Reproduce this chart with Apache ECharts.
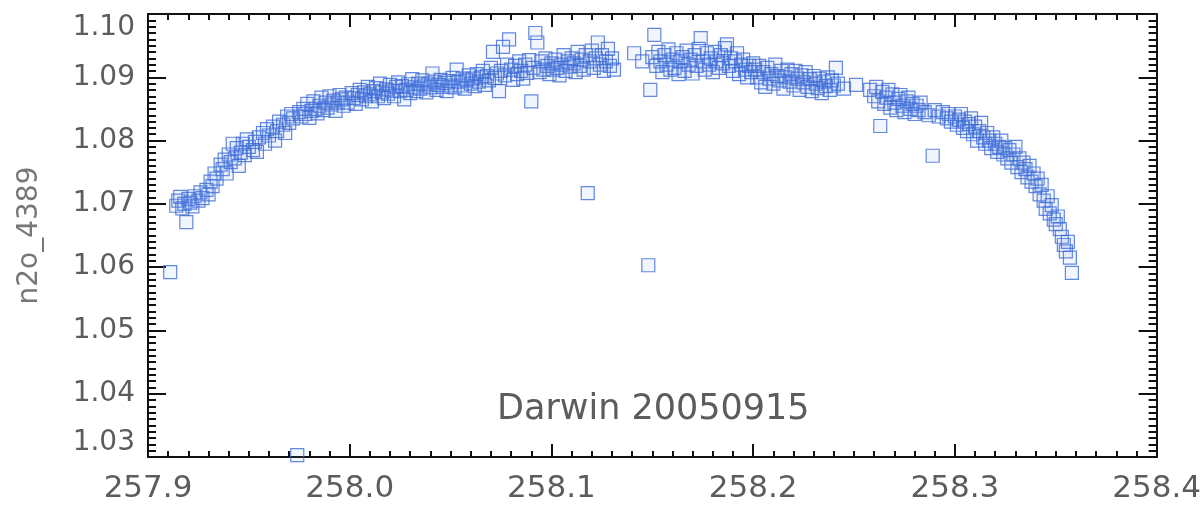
<!DOCTYPE html>
<html>
<head>
<meta charset="utf-8">
<title>Darwin 20050915</title>
<script src="https://cdn.jsdelivr.net/npm/echarts@6/dist/echarts.min.js"></script>
<style>
    html, body { margin: 0; padding: 0; background: #fff; }
    #chart { width: 1204px; height: 507px; }
</style>
</head>
<body>
<div id="chart"></div>
<script>
// tick labels
const xTicks = [257.9, 258.0, 258.1, 258.2, 258.3, 258.4]
const yTicks = [1.03, 1.04, 1.05, 1.06, 1.07, 1.08, 1.09, 1.10]

// rising arm, 257.91 - 258.00
const leftArm = [
    [257.914,1.0697],[257.915,1.0705],[257.916,1.0711],[257.917,1.0693],[257.918,1.0700],[257.919,1.0671],
    [257.920,1.0708],[257.921,1.0702],[257.922,1.0696],[257.923,1.0712],[257.925,1.0705],[257.926,1.0718],
    [257.927,1.0709],[257.929,1.0722],[257.930,1.0715],[257.931,1.0735],[257.932,1.0728],[257.933,1.0748],
    [257.934,1.0740],[257.936,1.0762],[257.937,1.0755],[257.938,1.0770],[257.939,1.0748],[257.940,1.0778],
    [257.941,1.0766],[257.942,1.0795],[257.943,1.0772],[257.944,1.0788],[257.945,1.0760],[257.946,1.0781],
    [257.947,1.0795],[257.948,1.0777],[257.949,1.0802],[257.950,1.0790],[257.952,1.0785],[257.953,1.0798],
    [257.954,1.0782],[257.955,1.0805],[257.957,1.0812],[257.958,1.0795],[257.959,1.0818],[257.960,1.0808],
    [257.962,1.0822],[257.963,1.0800],[257.964,1.0815],[257.965,1.0830],[257.967,1.0825],[257.968,1.0812],
    [257.969,1.0838],[257.970,1.0828],[257.971,1.0842],[257.972,1.0835],[257.975,1.0845],[257.976,1.0838],
    [257.977,1.0850],[257.978,1.0842],[257.979,1.0858],[257.980,1.0836],[257.981,1.0847],[257.982,1.0862],
    [257.983,1.0850],[257.984,1.0843],[257.985,1.0855],[257.986,1.0868],[257.987,1.0848],[257.988,1.0860],
    [257.989,1.0852],[257.990,1.0870],[257.991,1.0857],[257.992,1.0863],[257.993,1.0847],[257.994,1.0860],
    [257.995,1.0872],[257.996,1.0865],[257.997,1.0855],[257.998,1.0868],[257.999,1.0860]
]

// flat top, 258.00 - 258.245
const plateau = [
    [258.001,1.0875],[258.002,1.0867],[258.003,1.0858],[258.004,1.0872],[258.005,1.0880],[258.006,1.0865],
    [258.007,1.0876],[258.008,1.0870],[258.009,1.0885],[258.010,1.0873],[258.011,1.0862],[258.012,1.0878],
    [258.013,1.0883],[258.014,1.0870],[258.015,1.0890],[258.016,1.0876],[258.017,1.0867],[258.018,1.0881],
    [258.019,1.0874],[258.020,1.0888],[258.021,1.0879],[258.022,1.0870],[258.023,1.0885],[258.024,1.0892],
    [258.025,1.0878],[258.026,1.0886],[258.027,1.0865],[258.028,1.0880],[258.029,1.0889],[258.030,1.0875],
    [258.031,1.0897],[258.032,1.0884],[258.033,1.0878],[258.034,1.0890],[258.035,1.0882],[258.036,1.0895],
    [258.037,1.0887],[258.038,1.0876],[258.039,1.0890],[258.040,1.0884],[258.041,1.0906],[258.042,1.0893],
    [258.043,1.0880],[258.044,1.0888],[258.045,1.0896],[258.046,1.0885],[258.047,1.0891],[258.048,1.0878],
    [258.049,1.0894],[258.050,1.0887],[258.051,1.0899],[258.052,1.0884],[258.053,1.0912],[258.054,1.0893],
    [258.055,1.0887],[258.056,1.0898],[258.057,1.0882],[258.058,1.0895],[258.059,1.0903],[258.060,1.0890],
    [258.061,1.0898],[258.062,1.0886],[258.063,1.0905],[258.064,1.0893],[258.065,1.0900],[258.066,1.0910],
    [258.067,1.0888],[258.068,1.0902],[258.069,1.0895],[258.070,1.0915],[258.071,1.0940],[258.072,1.0899],
    [258.073,1.0906],[258.074,1.0878],[258.075,1.0910],[258.076,1.0948],[258.077,1.0903],[258.078,1.0920],
    [258.079,1.0960],[258.080,1.0912],[258.081,1.0896],[258.082,1.0918],[258.083,1.0905],[258.084,1.0925],
    [258.085,1.0910],[258.086,1.0898],[258.087,1.0920],[258.088,1.0907],[258.089,1.0927],[258.090,1.0862],
    [258.091,1.0915],[258.092,1.0970],[258.093,1.0955],[258.094,1.0908],[258.095,1.0925],[258.096,1.0912],
    [258.097,1.0930],[258.098,1.0918],[258.099,1.0905],[258.100,1.0922],[258.101,1.0912],[258.102,1.0928],
    [258.103,1.0915],[258.104,1.0903],[258.105,1.0920],[258.106,1.0935],[258.107,1.0910],[258.108,1.0925],
    [258.109,1.0917],[258.110,1.0930],[258.111,1.0922],[258.112,1.0908],[258.113,1.0940],[258.114,1.0918],
    [258.115,1.0928],[258.116,1.0912],[258.117,1.0935],[258.119,1.0925],[258.120,1.0942],[258.121,1.0915],
    [258.122,1.0930],[258.123,1.0955],[258.124,1.0920],[258.125,1.0935],[258.126,1.0910],[258.127,1.0925],
    [258.128,1.0945],[258.129,1.0918],[258.130,1.0930],[258.131,1.0912],
    [258.141,1.0938],[258.145,1.0925],[258.149,1.0880],[258.150,1.0932],[258.151,1.0967],[258.152,1.0918],
    [258.153,1.0940],[258.154,1.0925],[258.155,1.0908],[258.156,1.0935],[258.157,1.0920],[258.158,1.0944],
    [258.159,1.0912],[258.160,1.0928],[258.161,1.0915],[258.162,1.0938],[258.163,1.0905],[258.164,1.0925],
    [258.165,1.0932],[258.166,1.0910],[258.167,1.0942],[258.168,1.0920],[258.169,1.0928],[258.170,1.0906],
    [258.171,1.0935],[258.172,1.0918],[258.173,1.0945],[258.174,1.0962],[258.175,1.0925],[258.176,1.0912],
    [258.177,1.0938],[258.178,1.0920],[258.179,1.0930],[258.180,1.0908],[258.181,1.0940],[258.182,1.0925],
    [258.183,1.0915],[258.184,1.0935],[258.185,1.0922],[258.186,1.0946],[258.187,1.0952],[258.188,1.0918],
    [258.189,1.0930],[258.190,1.0910],[258.191,1.0925],[258.192,1.0938],[258.193,1.0905],[258.194,1.0920],
    [258.195,1.0928],[258.196,1.0912],[258.197,1.0900],[258.198,1.0918],[258.199,1.0908],[258.200,1.0922],
    [258.201,1.0912],[258.202,1.0900],[258.203,1.0918],[258.204,1.0892],[258.205,1.0908],[258.206,1.0885],
    [258.207,1.0915],[258.208,1.0898],[258.209,1.0905],[258.210,1.0890],[258.211,1.0920],[258.212,1.0902],
    [258.213,1.0895],[258.214,1.0910],[258.215,1.0882],[258.216,1.0900],[258.217,1.0912],[258.218,1.0893],
    [258.219,1.0905],[258.220,1.0887],[258.221,1.0910],[258.222,1.0898],[258.223,1.0880],[258.224,1.0903],
    [258.225,1.0892],[258.226,1.0908],[258.227,1.0885],[258.228,1.0897],[258.229,1.0878],[258.230,1.0902],
    [258.231,1.0890],[258.232,1.0883],[258.233,1.0898],[258.234,1.0875],[258.235,1.0893],[258.236,1.0886],
    [258.237,1.0900],[258.238,1.0880],[258.239,1.0895],[258.240,1.0887],[258.241,1.0915],[258.242,1.0890]
]

// falling arm, 258.245 - 258.36
const rightArm = [
    [258.245,1.0882],[258.251,1.0888],[258.258,1.0880],[258.260,1.0870],[258.261,1.0885],[258.262,1.0862],
    [258.264,1.0877],[258.265,1.0858],[258.266,1.0868],[258.267,1.0880],[258.268,1.0852],[258.269,1.0873],
    [258.270,1.0860],[258.271,1.0848],[258.272,1.0866],[258.273,1.0872],[258.274,1.0855],[258.275,1.0845],
    [258.276,1.0862],[258.277,1.0868],[258.278,1.0850],[258.279,1.0858],[258.280,1.0842],[258.281,1.0855],
    [258.282,1.0848],[258.283,1.0860],[258.285,1.0845],[258.287,1.0840],[258.290,1.0848],[258.292,1.0838],
    [258.294,1.0845],[258.296,1.0835],[258.297,1.0842],[258.298,1.0830],[258.300,1.0838],[258.301,1.0825],
    [258.302,1.0833],[258.303,1.0842],[258.304,1.0820],[258.305,1.0830],[258.306,1.0815],[258.307,1.0826],
    [258.308,1.0835],[258.309,1.0810],[258.310,1.0822],[258.311,1.0800],[258.312,1.0815],[258.313,1.0828],
    [258.314,1.0805],[258.315,1.0795],[258.316,1.0812],[258.317,1.0800],[258.318,1.0788],[258.319,1.0805],
    [258.320,1.0795],[258.321,1.0782],[258.322,1.0790],[258.323,1.0800],[258.324,1.0778],[258.325,1.0788],
    [258.326,1.0772],[258.327,1.0785],[258.328,1.0765],[258.329,1.0778],[258.330,1.0790],[258.331,1.0758],
    [258.332,1.0772],[258.333,1.0750],[258.334,1.0765],[258.335,1.0755],[258.336,1.0742],[258.337,1.0760],
    [258.338,1.0735],[258.339,1.0748],[258.340,1.0728],[258.341,1.0740],[258.342,1.0715],[258.343,1.0730],
    [258.344,1.0705],[258.345,1.0692],[258.346,1.0712],[258.347,1.0685],[258.348,1.0698],[258.349,1.0675],
    [258.350,1.0668],[258.351,1.0680],[258.352,1.0660],[258.353,1.0648],[258.354,1.0635],[258.355,1.0625],
    [258.356,1.0640],[258.357,1.0615],[258.358,1.0591]
]

// stray points away from the arc
const outliers = [
    [257.911,1.0592],[257.974,1.0303],[258.118,1.0717],[258.148,1.0603],[258.263,1.0823],[258.289,1.0776]
]

const chartLabel = 'Darwin 20050915'
const yName = 'n2o_4389'

let chartDom = document.getElementById('chart')
let chart = echarts.init(chartDom)

let textGrey = '#5c5c5c'
let frame = { show: true, onZero: false, lineStyle: { color: '#111', width: 2 } }

function xAxisOpt(pos, showLabel) {
    return {
        type: 'value',
        position: pos,
        min: xTicks[0],
        max: xTicks[xTicks.length - 1],
        interval: 0.1,
        axisLine: frame,
        axisTick: { show: true, inside: true, length: 13, lineStyle: { color: '#111', width: 2 } },
        minorTick: { show: true, splitNumber: 10, length: 6, lineStyle: { color: '#111', width: 2 } },
        splitLine: { show: false },
        axisLabel: {
            show: showLabel,
            margin: 16,
            fontFamily: 'DejaVu Sans',
            fontSize: 31,
            color: textGrey,
            formatter: function (v) { return v.toFixed(1) }
        }
    }
}

function yAxisOpt(pos, showLabel) {
    return {
        type: 'value',
        position: pos,
        min: yTicks[0],
        max: yTicks[yTicks.length - 1],
        interval: 0.01,
        name: showLabel ? yName : '',
        nameLocation: 'middle',
        nameGap: 104,
        nameTextStyle: { fontFamily: 'DejaVu Sans', fontSize: 28, color: '#777' },
        axisLine: frame,
        axisTick: { show: true, inside: true, length: 18, lineStyle: { color: '#111', width: 2 } },
        minorTick: { show: true, splitNumber: 10, length: 8, lineStyle: { color: '#111', width: 2 } },
        splitLine: { show: false },
        axisLabel: {
            show: showLabel,
            margin: 13,
            fontFamily: 'DejaVu Sans',
            fontSize: 28,
            color: textGrey,
            verticalAlignMinLabel: 'bottom',
            verticalAlignMaxLabel: 'top',
            formatter: function (v) { return v.toFixed(2) }
        }
    }
}

let option = {
    animation: false,
    backgroundColor: '#fff',
    grid: { left: 148, right: 46, top: 14, bottom: 50, containLabel: false },
    xAxis: [xAxisOpt('bottom', true), xAxisOpt('top', false)],
    yAxis: [yAxisOpt('left', true), yAxisOpt('right', false)],
    graphic: [{
        type: 'text',
        left: 497,
        top: 392,
        style: { text: chartLabel, font: '35px "DejaVu Sans"', fill: textGrey }
    }],
    series: [{
        type: 'scatter',
        xAxisIndex: 0,
        yAxisIndex: 0,
        symbol: 'rect',
        symbolSize: 13,
        data: leftArm.concat(plateau, rightArm, outliers),
        itemStyle: {
            color: 'rgba(110,155,240,0.12)',
            borderColor: '#3d6bd4',
            borderWidth: 1.2
        }
    }]
}

chart.setOption(option)
</script>
</body>
</html>
